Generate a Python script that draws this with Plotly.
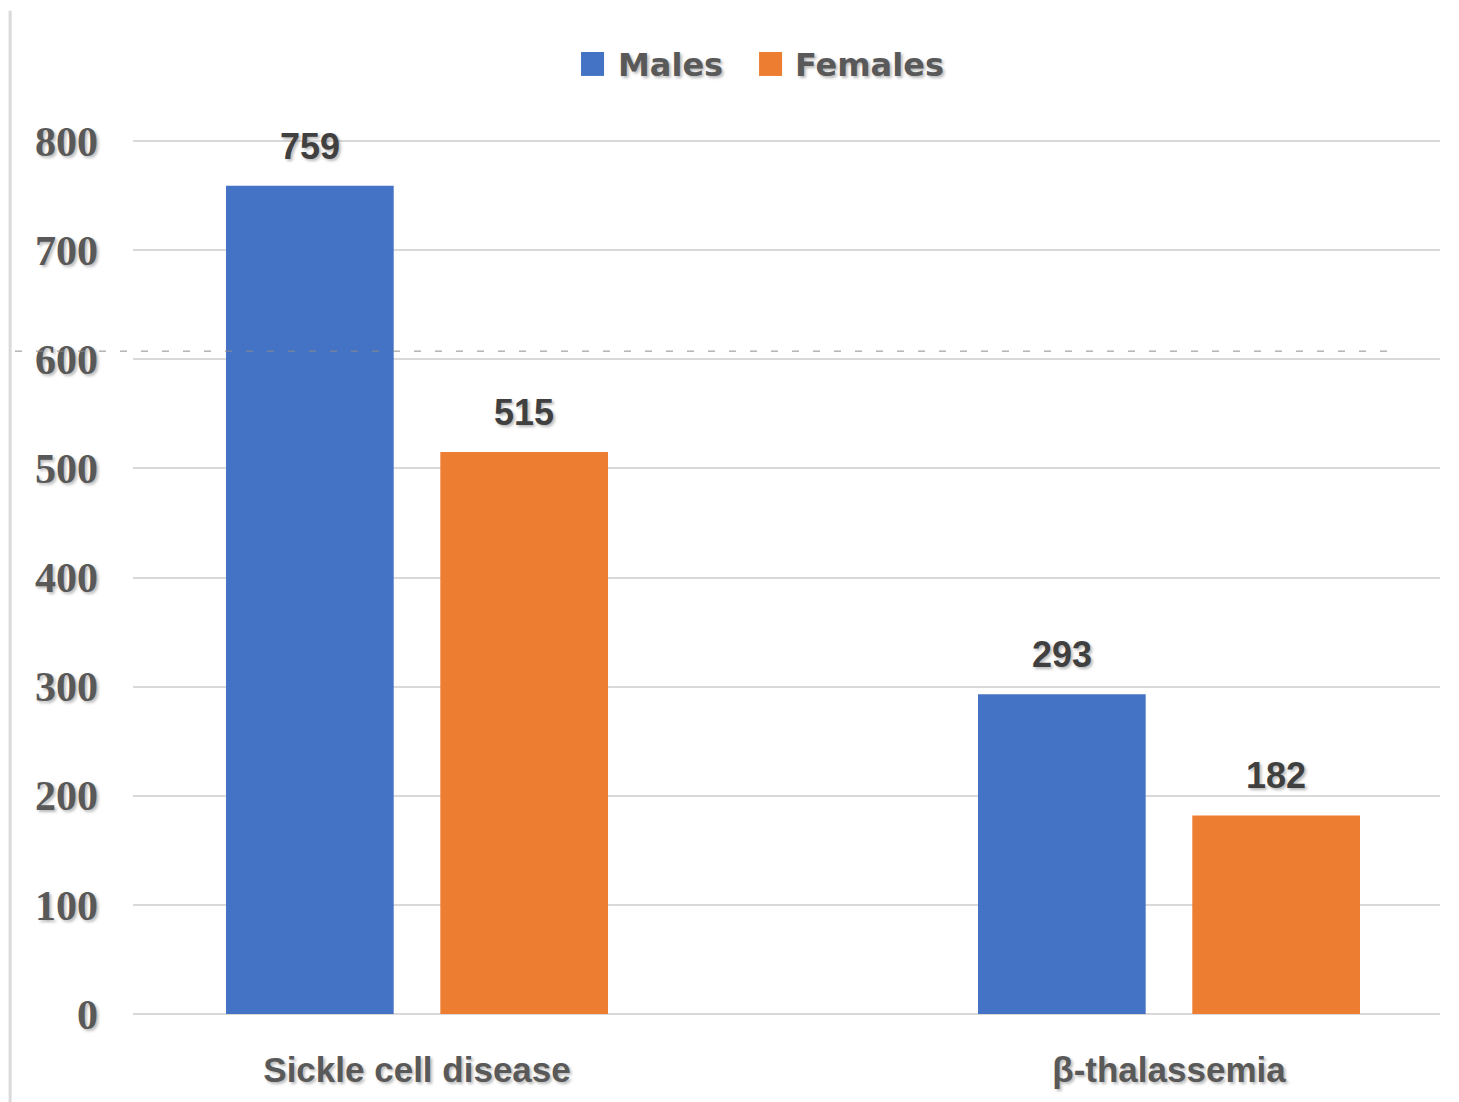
import plotly.graph_objects as go

categories = ["Sickle cell disease", "β-thalassemia"]
series_names = ["Males", "Females"]
males = [759, 293]
females = [515, 182]
y_ticks = [0, 100, 200, 300, 400, 500, 600, 700, 800]

colors = ["#4472C4", "#ED7D31"]
series_values = [males, females]
# bar placement inside each category slot (offset from slot centre, bar width)
bar_offsets = [-0.254, 0.031]
bar_width = 0.223

text_grey = "#595959"
label_dark = "#404040"
shadow = "2px 2px 3px rgba(0,0,0,0.28)"
sans = "Liberation Sans"
legend_font = "DejaVu Sans"
serif = "Liberation Serif"

fig = go.Figure()
for name, vals, col, off in zip(series_names, series_values, colors, bar_offsets):
    fig.add_trace(go.Bar(
        x=categories, y=vals, name=name,
        marker=dict(color=col, line=dict(width=0)),
        offset=off, width=bar_width, showlegend=False,
    ))
    # value labels above each bar
    for i, v in enumerate(vals):
        fig.add_annotation(
            x=i + off + bar_width / 2, y=v, xref="x", yref="y",
            text=f"<b>{v}</b>", showarrow=False, yanchor="bottom", yshift=17,
            font=dict(family=sans, size=36, color=label_dark, shadow=shadow),
        )

# legend drawn as swatches + labels along the top
legend_items = [(0.3428, 0.3604, 0.3696), (0.479, 0.4966, 0.505)]
for (x0, x1, tx), name, col in zip(legend_items, series_names, colors):
    fig.add_shape(type="rect", xref="paper", yref="paper", x0=x0, x1=x1,
                  y0=1.0733, y1=1.1007, fillcolor=col, line=dict(width=0))
    fig.add_annotation(x=tx, y=1.0855, xref="paper", yref="paper", text=f"<b>{name}</b>",
                       showarrow=False, xanchor="left", yanchor="middle",
                       font=dict(family=legend_font, size=32, color=text_grey, shadow=shadow))

# dashed guide line and left frame line
fig.add_shape(type="line", xref="paper", yref="y", x0=-0.0903, x1=0.968, y0=607.5, y1=607.5,
              line=dict(color="#8c8c8c", width=1, dash="7px,14px"))
fig.add_shape(type="line", xref="paper", yref="paper", x0=-0.094, x1=-0.094, y0=-0.11, y1=1.148,
              line=dict(color="#d9d9d9", width=3))

fig.update_layout(
    width=1459, height=1102,
    margin=dict(l=133, r=19, t=140, b=88),
    paper_bgcolor="white", plot_bgcolor="white",
    barmode="overlay",
    showlegend=False,
    xaxis=dict(
        type="category", range=[-0.3777, 1.3604], automargin=False,
        showgrid=False, zeroline=False, showline=False, ticks="",
        ticklabelstandoff=32,
        tickfont=dict(family=sans, size=35, color=text_grey, weight="bold", shadow=shadow),
    ),
    yaxis=dict(
        range=[0, 801], tickvals=y_ticks, automargin=False,
        showgrid=True, gridcolor="#d9d9d9", gridwidth=1.5,
        zeroline=True, zerolinecolor="#d9d9d9", zerolinewidth=1.5,
        showline=False, ticks="", ticklabelstandoff=34,
        tickfont=dict(family=serif, size=42, color=text_grey, weight="bold", shadow=shadow),
    ),
)

fig.write_html("out.html")
